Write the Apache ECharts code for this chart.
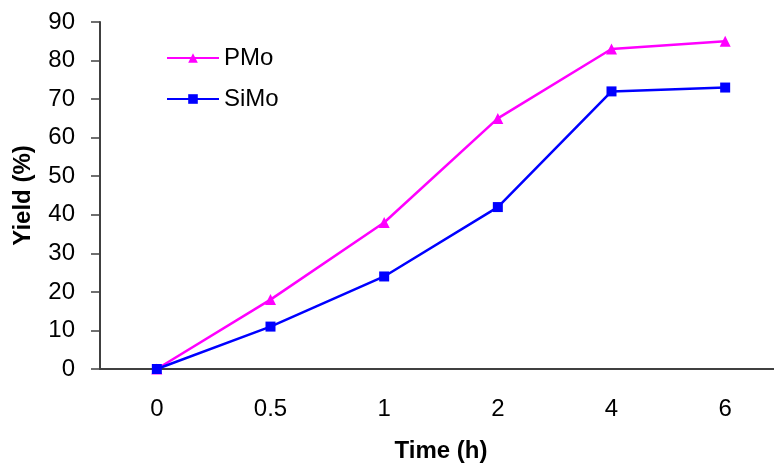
<!DOCTYPE html>
<html>
<head>
<meta charset="utf-8">
<script src="https://cdn.jsdelivr.net/npm/echarts@6/dist/echarts.min.js"></script>
<style>html,body{margin:0;padding:0;background:#fff;}#c{width:774px;height:465px;}</style>
</head>
<body>
<div id="c"></div>
<script>
const categories = ['0', '0.5', '1', '2', '4', '6'];
const pmo = [0, 18, 38, 65, 83, 85];
const simo = [0, 11, 24, 42, 72, 73];
const yTicks = { min: 0, max: 90, interval: 10 };

const chart = echarts.init(document.getElementById('c'), null, { renderer: 'canvas' });
const axisColor = '#404040';
const font = 'Liberation Sans, Arial, sans-serif';
chart.setOption({
  animation: false,
  backgroundColor: '#fff',
  grid: { left: 100, top: 22, height: 347, width: 682, containLabel: false, outerBoundsMode: 'none' },
  legend: {
    orient: 'vertical', left: 166, top: 46, padding: 0, itemGap: 17, itemWidth: 52, itemHeight: 12,
    textStyle: { fontFamily: font, fontSize: 24, lineHeight: 24, color: '#000' },
    data: ['PMo', 'SiMo']
  },
  xAxis: {
    type: 'category', data: categories, boundaryGap: true,
    name: 'Time (h)', nameLocation: 'middle', nameGap: 70,
    nameTextStyle: { fontFamily: font, fontSize: 24, fontWeight: 'bold', color: '#000' },
    axisLine: { lineStyle: { color: axisColor, width: 2 } },
    axisTick: { length: 9, lineStyle: { color: axisColor, width: 1.5 } },
    axisLabel: { margin: 28, fontFamily: font, fontSize: 24, color: '#000' },
    splitLine: { show: false }
  },
  yAxis: {
    type: 'value', min: yTicks.min, max: yTicks.max, interval: yTicks.interval,
    name: 'Yield (%)', nameLocation: 'middle', nameGap: 65, nameRotate: 90,
    nameTextStyle: { fontFamily: font, fontSize: 24, fontWeight: 'bold', color: '#000' },
    axisLine: { show: true, lineStyle: { color: axisColor, width: 2 } },
    axisTick: { show: true, length: 9, lineStyle: { color: axisColor, width: 1.5 } },
    axisLabel: { margin: 25, fontFamily: font, fontSize: 24, color: '#000' },
    splitLine: { show: false }
  },
  series: [
    {
      name: 'PMo', type: 'line', data: pmo, symbol: 'triangle', symbolSize: 11,
      itemStyle: { color: '#FF00FF' }, lineStyle: { color: '#FF00FF', width: 2.5 }, z: 3
    },
    {
      name: 'SiMo', type: 'line', data: simo, symbol: 'rect', symbolSize: 10,
      itemStyle: { color: '#0000FF' }, lineStyle: { color: '#0000FF', width: 2.5 }, z: 4
    }
  ]
});
</script>
</body>
</html>
